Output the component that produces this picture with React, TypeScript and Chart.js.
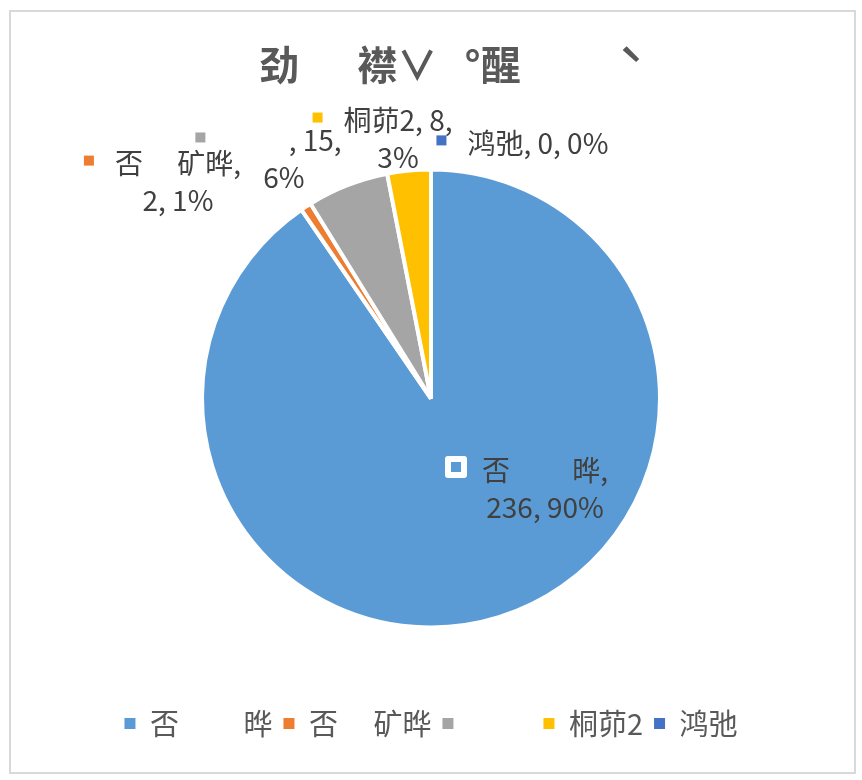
import React, { useEffect, useRef } from "react";
import { Chart, registerables } from "chart.js";
Chart.register(...registerables);

const FONT = '"Noto Sans CJK SC", "Noto Sans", sans-serif';

const TITLE = "　劲　  襟∨   °醒　　  ˋ";
const categories = ["否　　 晔", "否　 矿晔", "　　 ", "桐茆2", "鸿弛"];
const values = [236, 2, 15, 8, 0];
const colors = ["#5B9BD5", "#ED7D31", "#A5A5A5", "#FFC000", "#4472C4"];
// how each data label wraps: after the name, after the value, or not at all
const labelWrap = ["name", "name", "value", "value", "none"];
// label block centres, in units of the pie radius, relative to the pie centre
const labelAnchor: [number, number][] = [
  [0.498, 0.393],
  [-1.105, -0.945],
  [-0.642, -1.046],
  [-0.144, -1.133],
  [0.467, -1.114],
];

const LABEL_SIZE = 28;
const LEGEND_SIZE = 29;
const LINE_H = 37;
const KEY = 10;
const KEY_GAP = 21;

const framePlugin = {
  id: "frame",
  beforeDraw(chart: any) {
    const ctx = chart.ctx;
    ctx.save();
    ctx.fillStyle = "#ffffff";
    ctx.fillRect(0, 0, chart.width, chart.height);
    ctx.strokeStyle = "#d9d9d9";
    ctx.lineWidth = 2;
    ctx.strokeRect(10, 11, chart.width - 17, chart.height - 18);
    ctx.restore();
  },
};

const labelsPlugin = {
  id: "sliceLabels",
  afterDatasetsDraw(chart: any) {
    const meta = chart.getDatasetMeta(0);
    const arc0 = meta.data[0] as any;
    const cx = arc0.x;
    const cy = arc0.y;
    const r = arc0.outerRadius;
    const ctx = chart.ctx;
    const total = values.reduce((a, b) => a + b, 0);
    ctx.save();
    ctx.font = `${LABEL_SIZE}px ${FONT}`;
    ctx.textBaseline = "middle";
    ctx.textAlign = "center";
    values.forEach((v, i) => {
      const pct = Math.round((v / total) * 100) + "%";
      const name = categories[i];
      let lines: string[];
      if (labelWrap[i] === "name") lines = [name + ",", v + ", " + pct];
      else if (labelWrap[i] === "value") lines = [name + ", " + v + ",", pct];
      else lines = [name + ", " + v + ", " + pct];
      const [ax, ay] = labelAnchor[i];
      const bx = cx + ax * r;
      const by = cy + ay * r;
      const top = by - ((lines.length - 1) * LINE_H) / 2;
      ctx.fillStyle = "#404040";
      lines.forEach((ln, j) => ctx.fillText(ln, bx, top + j * LINE_H));
      const w0 = ctx.measureText(lines[0]).width;
      const kx = bx - w0 / 2 - KEY_GAP - KEY;
      const ky = top - 3 - KEY / 2;
      if (i === 0) {
        ctx.fillStyle = "#ffffff";
        ctx.beginPath();
        (ctx as any).roundRect(kx - 6, ky - 6, KEY + 12, KEY + 12, 3);
        ctx.fill();
      }
      ctx.fillStyle = colors[i];
      ctx.fillRect(kx, ky, KEY, KEY);
    });
    ctx.restore();
  },
};

export default function App() {
  const ref = useRef<HTMLCanvasElement>(null);
  useEffect(() => {
    document.body.style.margin = "0";
    const baseGen = (Chart as any).overrides.doughnut.plugins.legend.labels.generateLabels;
    const chart = new Chart(ref.current as HTMLCanvasElement, {
      type: "pie",
      data: {
        labels: categories,
        datasets: [
          {
            data: values,
            backgroundColor: colors,
            borderColor: "#ffffff",
            borderWidth: 4,
            radius: 229,
            hoverOffset: 0,
          } as any,
        ],
      },
      options: {
        responsive: false,
        devicePixelRatio: 1,
        animation: false,
        layout: { padding: { top: 20, bottom: 32, left: 0, right: 0 } },
        font: { family: FONT } as any,
        plugins: {
          title: {
            display: true,
            text: TITLE,
            color: "#595959",
            font: { family: FONT, size: 40, weight: "bold" },
            padding: { top: 21, bottom: 10 },
          },
          legend: {
            position: "bottom",
            labels: {
              boxWidth: 11,
              boxHeight: 11,
              padding: 11,
              color: "#595959",
              font: { family: FONT, size: LEGEND_SIZE },
              generateLabels: (c: any) =>
                baseGen(c).map((l: any) => ({ ...l, lineWidth: 0, strokeStyle: "rgba(0,0,0,0)" })),
            },
          },
          tooltip: { enabled: false },
        },
      } as any,
      plugins: [framePlugin, labelsPlugin],
    });
    return () => chart.destroy();
  }, []);
  return (
    <div style={{ width: 862, height: 780 }}>
      <canvas ref={ref} width={862} height={780} />
    </div>
  );
}
